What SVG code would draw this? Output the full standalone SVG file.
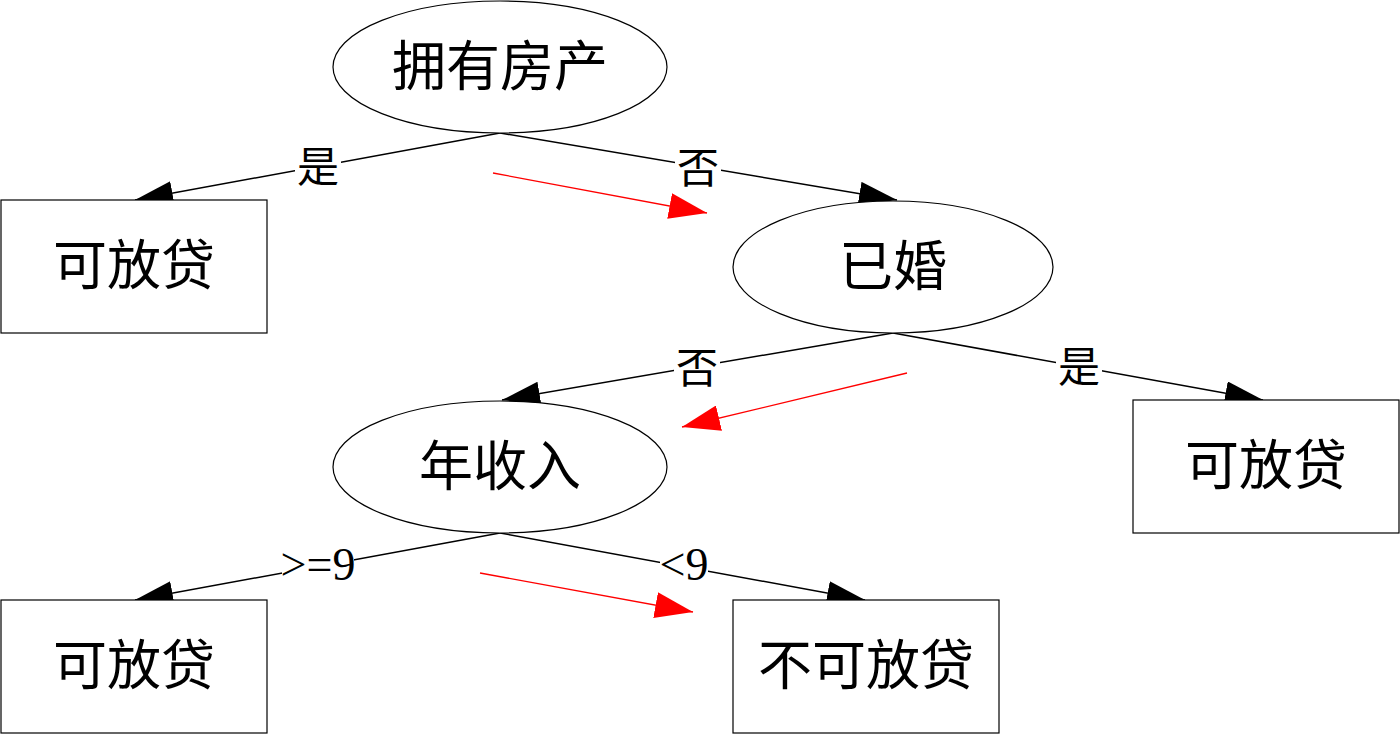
<svg xmlns="http://www.w3.org/2000/svg" width="1400" height="734" viewBox="0 0 1400 734">
<style>
.node{fill:#fff;stroke:#000;stroke-width:1.2}
.nt{font-family:"Noto Sans CJK SC","Liberation Serif",serif;font-size:54px;fill:#000;text-anchor:middle;dominant-baseline:central}
.edge{stroke:#000;stroke-width:1.5;fill:none;marker-end:url(#ab)}
.red{stroke:#f00;stroke-width:1.3;fill:none;marker-end:url(#ar)}
.lt{font-family:"Noto Sans CJK SC","Liberation Serif",serif;font-size:42px;fill:#000;text-anchor:middle;dominant-baseline:central}
.num{font-family:"Liberation Serif",serif;font-size:46px}
.lr{fill:#fff}
</style>
<defs>
<marker id="ab" viewBox="0 0 38 24" refX="38" refY="12" markerWidth="38" markerHeight="24" markerUnits="userSpaceOnUse" orient="auto"><path d="M0,0L38,12L0,24z" fill="#000"/></marker>
<marker id="ar" viewBox="0 0 38 26" refX="38" refY="13" markerWidth="38" markerHeight="26" markerUnits="userSpaceOnUse" orient="auto"><path d="M0,0L38,13L0,26z" fill="#f00"/></marker>
</defs>
<rect width="1400" height="734" fill="#fff"/>
<g id="connectors">
<line class="edge" x1="500" y1="133" x2="135" y2="200"/>
<line class="edge" x1="500" y1="133" x2="897" y2="200"/>
<line class="edge" x1="893" y1="333" x2="502" y2="400"/>
<line class="edge" x1="893" y1="333" x2="1263" y2="400"/>
<line class="edge" x1="500" y1="533" x2="135" y2="600"/>
<line class="edge" x1="500" y1="533" x2="865" y2="600"/>
<line class="red" x1="493" y1="173" x2="707" y2="213"/>
<line class="red" x1="907" y1="373" x2="682" y2="427"/>
<line class="red" x1="480" y1="573" x2="693" y2="612"/>
<rect class="lr" x="295" y="143" width="46" height="42"/>
<text class="lt" x="318" y="163">是</text>
<rect class="lr" x="675" y="145" width="46" height="40"/>
<text class="lt" x="698" y="164">否</text>
<rect class="lr" x="674" y="345" width="46" height="40"/>
<text class="lt" x="697" y="364">否</text>
<rect class="lr" x="1056" y="343" width="46" height="42"/>
<text class="lt" x="1079" y="363">是</text>
<rect class="lr" x="282" y="545" width="72" height="40"/>
<text class="lt num" x="318" y="564">&gt;=9</text>
<rect class="lr" x="660" y="545" width="48" height="40"/>
<text class="lt num" x="684" y="564">&lt;9</text>
</g>
<g id="n1"><ellipse class="node" cx="500" cy="67" rx="167" ry="66"/><text class="nt" x="500" y="62">拥有房产</text></g>
<g id="n2"><rect class="node" x="1" y="200" width="266" height="133"/><text class="nt" x="134" y="261">可放贷</text></g>
<g id="n3"><ellipse class="node" cx="893" cy="267" rx="160" ry="66"/><text class="nt" x="893" y="262">已婚</text></g>
<g id="n4"><ellipse class="node" cx="500" cy="467" rx="167" ry="66"/><text class="nt" x="500" y="462">年收入</text></g>
<g id="n5"><rect class="node" x="1133" y="400" width="266" height="133"/><text class="nt" x="1266" y="461">可放贷</text></g>
<g id="n6"><rect class="node" x="1" y="600" width="266" height="133"/><text class="nt" x="134" y="661">可放贷</text></g>
<g id="n7"><rect class="node" x="733" y="600" width="266" height="133"/><text class="nt" x="866" y="661">不可放贷</text></g>
</svg>
